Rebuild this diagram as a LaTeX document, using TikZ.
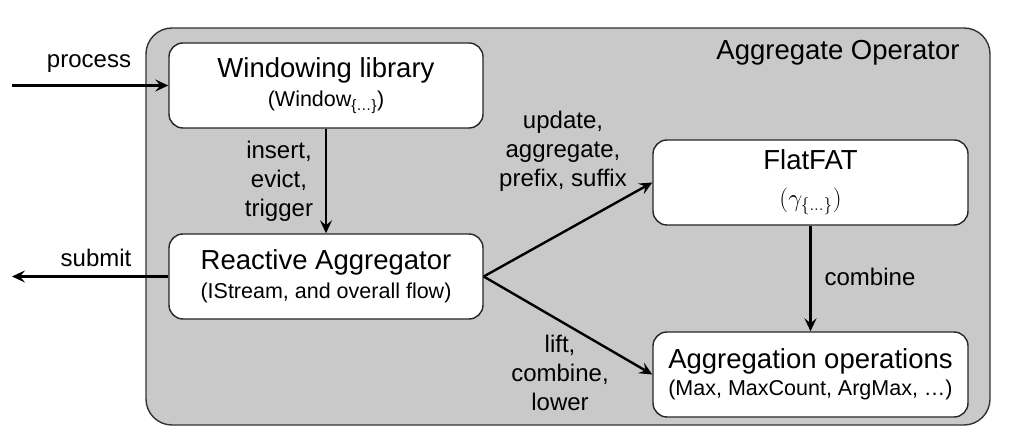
\documentclass[tikz,border=0pt]{standalone}
\usepackage{fontspec}
\setmainfont{Liberation Sans}
\usetikzlibrary{arrows.meta}
\begin{document}
\begin{tikzpicture}[x=1pt,y=-1pt,
  box/.style={draw=black!85,line width=1.4pt,fill=white,rounded corners=14pt,minimum width=314pt,minimum height=85pt,inner sep=0pt,align=center,font=\fontsize{27.5}{31}\selectfont},
  lbl/.style={align=center,font=\fontsize{24}{29}\selectfont,inner sep=0pt},
  sub/.style={font=\fontsize{21.5}{25}\selectfont},
  arr/.style={line width=2.4pt,-{Stealth[length=13pt,width=12pt,inset=5pt]}}]
\useasboundingbox (0,0) rectangle (1017,435);
\draw[draw=black!80,line width=1.4pt,fill=black!21,rounded corners=26pt] (146,28) rectangle (990,425);
\node[font=\fontsize{27.5}{31}\selectfont] (title) at (838,53) {Aggregate Operator};
\node[box] (win) at (326,85.5) {Windowing library\\[-2pt]{\fontsize{21.5}{25}\selectfont (Window\textsubscript{\{…\}})}};
\node[box] (ra) at (326,276.5) {Reactive Aggregator\\[-2pt]{\fontsize{21.5}{25}\selectfont (IStream, and overall flow)}};
\node[box,minimum width=315pt] (ff) at (810.5,182.5) {FlatFAT\\[6pt]{\fontsize{24}{25}\selectfont$(\gamma_{\{\ldots\}})$}};
\node[box,minimum width=315pt] (ag) at (810.5,374.5) {Aggregation operations\\[-4pt]{\fontsize{21.5}{25}\selectfont (Max, MaxCount, ArgMax, …)}};
\coordinate (pin) at (12,85.5);
\coordinate (sout) at (12,276.5);
\draw[arr] (pin) -- (win.west);
\draw[arr] (ra.west) -- (sout);
\draw[arr] (win.south) -- (ra.north);
\draw[arr] (ra.east) -- (ff.west);
\draw[arr] (ra.east) -- (ag.west);
\draw[arr] (ff.south) -- (ag.north);
\node[lbl] (lp) at (89,64) {process};
\node[lbl] (ls) at (96,258) {submit};
\node[lbl] (lie) at (279,181) {insert,\\evict,\\trigger};
\node[lbl] (lu) at (563,151) {update,\\aggregate,\\prefix, suffix};
\node[lbl] (ll) at (560,373) {lift,\\combine,\\lower};
\node[lbl] (lc) at (870,277) {combine};
\end{tikzpicture}
\end{document}
